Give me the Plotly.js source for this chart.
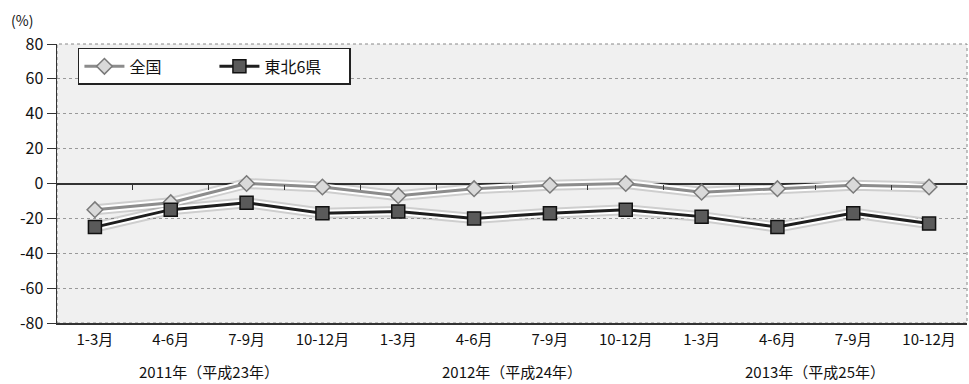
<!DOCTYPE html>
<html><head><meta charset="utf-8">
<script src="https://cdn.plot.ly/plotly-3.0.1.min.js"></script>
<style>body{margin:0;background:#fff}#c{width:969px;height:384px}</style>
</head><body><div id="c"></div>
<script>
const quarterLabels = ['1-3月','4-6月','7-9月','10-12月','1-3月','4-6月','7-9月','10-12月','1-3月','4-6月','7-9月','10-12月'];
const zenkoku = [-15, -11, 0, -2, -7, -3, -1, 0, -5, -3, -1, -2];
const tohoku = [-25, -15, -11, -17, -16, -20, -17, -15, -19, -25, -17, -23];
const yearLabels = ['2011年（平成23年）','2012年（平成24年）','2013年（平成25年）'];
const yearCenters = [1.5, 5.5, 9.5];
const yTicks = [80,60,40,20,0,-20,-40,-60,-80];
const seriesNames = ['全国','東北6県'];

const font = "'Noto Sans CJK JP', 'Noto Sans', sans-serif";
const idx = quarterLabels.map((c,i)=>i);

const traces = [
  {x: idx, y: zenkoku, mode:'lines', line:{color:'rgba(0,0,0,0.14)', width:11}, showlegend:false, hoverinfo:'skip'},
  {x: idx, y: tohoku, mode:'lines', line:{color:'rgba(0,0,0,0.14)', width:11}, showlegend:false, hoverinfo:'skip'},
  {x: idx, y: zenkoku, mode:'lines', line:{color:'#ffffff', width:7}, showlegend:false, hoverinfo:'skip'},
  {x: idx, y: tohoku, mode:'lines', line:{color:'#ffffff', width:7}, showlegend:false, hoverinfo:'skip'},
  {x: idx, y: zenkoku, name: seriesNames[0], mode:'lines+markers',
   line:{color:'#8c8c8c', width:3},
   marker:{symbol:'diamond', size:12, color:'#d9d9d9', line:{color:'#7a7a7a', width:1.5}}},
  {x: idx, y: tohoku, name: seriesNames[1], mode:'lines+markers',
   line:{color:'#1e1e1e', width:3},
   marker:{symbol:'square', size:13, color:'#5a5a5a', line:{color:'#111', width:1.5}}},
  {x:[0], y:[0], xaxis:'x2', mode:'markers', marker:{opacity:0}, showlegend:false, hoverinfo:'skip'}
];

const annotations = yearLabels.map((t,i)=>({
  text:t, x:yearCenters[i], xref:'x', y:0, yref:'paper', yshift:-48, yanchor:'middle',
  showarrow:false, font:{family:font, size:15, color:'#111'}
}));
annotations.push({text:'(%)', x:0, xref:'paper', y:1, yref:'paper', xshift:-48, yshift:36,
  xanchor:'left', yanchor:'top', showarrow:false, font:{family:font, size:14, color:'#111'}});

const layout = {
  width:969, height:384,
  margin:{l:57, r:2, t:44, b:61},
  paper_bgcolor:'#ffffff', plot_bgcolor:'#f0f0f0',
  showlegend:true,
  legend:{orientation:'h', x:0.023, y:0.986, xanchor:'left', yanchor:'top',
    bgcolor:'#ffffff', bordercolor:'#222', borderwidth:1.5,
    font:{family:font, size:16, color:'#111'}, entrywidth:80, itemwidth:40},
  xaxis:{type:'linear', range:[-0.5, 11.5], tickmode:'array', tickvals:idx, ticktext:quarterLabels,
    showgrid:false, zeroline:false, showline:true, linecolor:'#333', linewidth:1.5, mirror:false,
    ticks:'', ticklabelstandoff:2, tickfont:{family:font, size:15, color:'#111'}},
  xaxis2:{type:'linear', range:[-0.5, 11.5], overlaying:'x', anchor:'free', position:0.5,
    tickmode:'array', tickvals:[0.5,1.5,2.5,3.5,4.5,5.5,6.5,7.5,8.5,9.5,10.5],
    ticks:'outside', ticklen:5, tickcolor:'#333', tickwidth:1, showticklabels:false,
    showgrid:false, zeroline:false, showline:false},
  yaxis:{range:[-80,80], tickmode:'array', tickvals:yTicks, ticktext:yTicks.map(String),
    showgrid:true, gridcolor:'#9a9a9a', griddash:'dot', gridwidth:1,
    zeroline:true, zerolinecolor:'#333', zerolinewidth:2,
    showline:true, linecolor:'#333', linewidth:1.5, ticks:'outside', ticklen:9, tickcolor:'#333',
    tickfont:{family:font, size:16, color:'#111'}},
  shapes:[{type:'rect', xref:'paper', yref:'paper', x0:0, x1:1, y0:0, y1:1,
    line:{color:'#888', width:1, dash:'dot'}, layer:'below'}],
  annotations: annotations
};
Plotly.newPlot('c', traces, layout, {displayModeBar:false, staticPlot:true});
</script></body></html>
